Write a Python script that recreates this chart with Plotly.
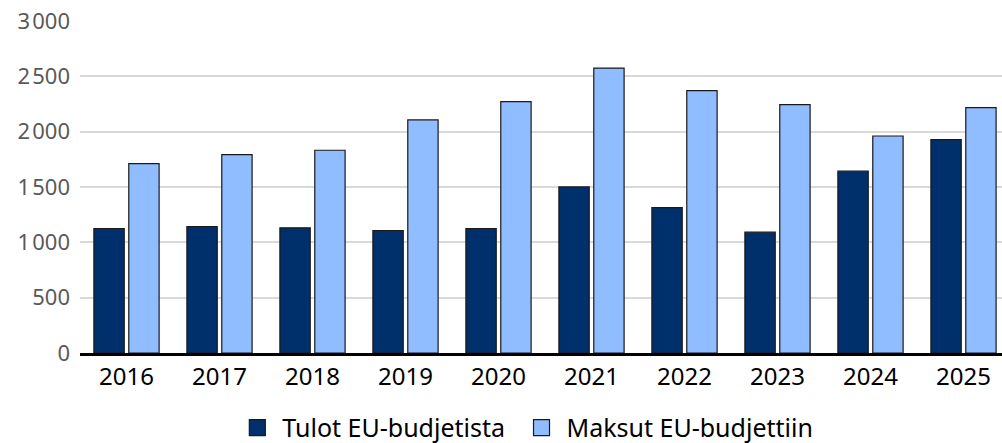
import plotly.graph_objects as go

years = ["2016", "2017", "2018", "2019", "2020", "2021", "2022", "2023", "2024", "2025"]
tulot = [1125, 1143, 1131, 1107, 1125, 1501, 1314, 1092, 1643, 1928]
maksut = [1711, 1793, 1832, 2106, 2271, 2575, 2370, 2244, 1961, 2217]
y_ticks = [0, 500, 1000, 1500, 2000, 2500, 3000]

names = ["Tulot EU-budjetista", "Maksut EU-budjettiin"]
colors = ["#00306B", "#8FBDFF"]
edge = "#1a1a1a"

fig = go.Figure()
for vals, nm, col in zip([tulot, maksut], names, colors):
    fig.add_trace(go.Bar(x=years, y=vals, name=nm, showlegend=False,
                         marker=dict(color=col, line=dict(color=edge, width=1.2))))
for i, (nm, col) in enumerate(zip(names, colors)):
    label = nm + ("\u00a0" if i == 0 else "")
    fig.add_trace(go.Scatter(x=[None], y=[None], mode="markers", name=label,
                             marker=dict(symbol="square", size=16, color=col,
                                         line=dict(color=edge, width=1.2))))

fig.update_layout(
    width=1002, height=443,
    margin=dict(l=80, r=0, t=21, b=90),
    plot_bgcolor="white", paper_bgcolor="white",
    barmode="group", bargap=0.25, bargroupgap=0.13,
    font=dict(family="Noto Sans", color="#000000"),
    separators=".\u200a",
    showlegend=True,
    legend=dict(orientation="h", x=0.483, xanchor="center", yref="container", y=0.034,
                yanchor="middle",
                font=dict(size=25, color="#000000"), itemwidth=40, traceorder="normal",
                itemsizing="trace"),
    xaxis=dict(range=[-0.5, -0.5 + 922 / 93], showline=True, linecolor="#000000", linewidth=3,
               tickfont=dict(size=24, color="#000000"), ticks="", showgrid=False),
    yaxis=dict(range=[0, 3000], tickvals=y_ticks, tickformat=",d", showgrid=True,
               gridcolor="#d9d9d9", gridwidth=1.5, zeroline=False,
               tickfont=dict(size=22, color="#595959"), ticks="", ticklabelstandoff=9),
)

fig.write_html("out.html", config={"displayModeBar": False},
               post_script="document.body.style.margin='0';document.body.style.overflow='hidden';")
